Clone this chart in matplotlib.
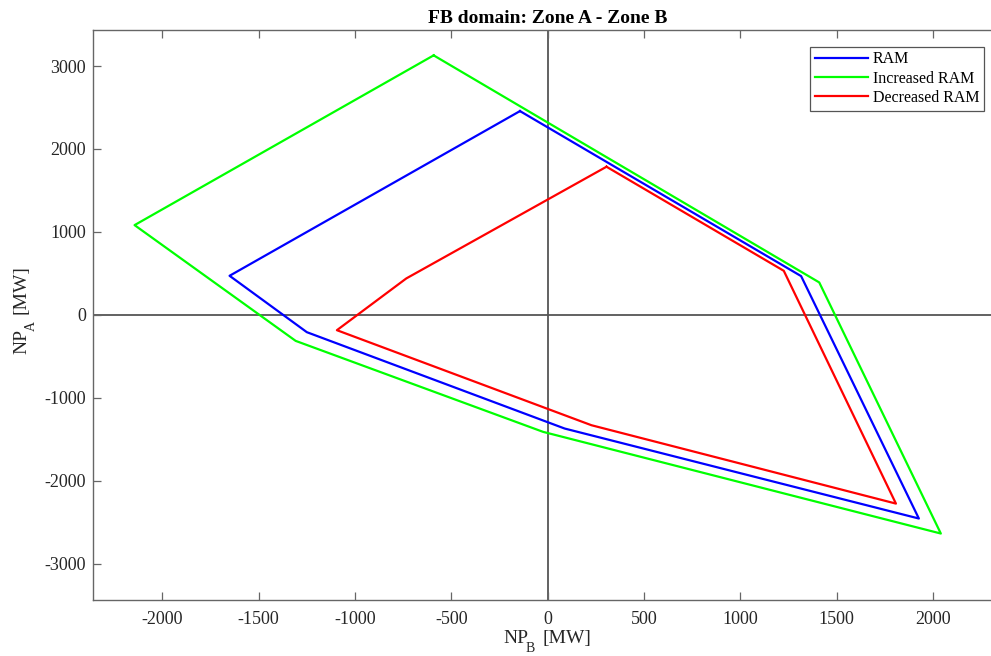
import matplotlib
matplotlib.use("Agg")
import matplotlib.pyplot as plt
from matplotlib.transforms import IdentityTransform

plt.rcParams['font.family'] = ['Liberation Serif', 'DejaVu Serif']
plt.rcParams['axes.unicode_minus'] = False

# polygon corners of the flow-based domain (NP_B, NP_A) in MW
ram_x = [-144, 1315, 1926, 88, -1250, -1651, -144]
ram_y = [2457, 467, -2456, -1371, -209, 471, 2457]

inc_x = [-592, 1409, 2040, -24, -1308, -2144, -592]
inc_y = [3129, 391, -2637, -1411, -314, 1082, 3129]

dec_x = [305, 1225, 1807, 227, -1094, -734, 305]
dec_y = [1786, 531, -2276, -1331, -185, 439, 1786]

labels = ['RAM', 'Increased RAM', 'Decreased RAM']
colors = ['#0000ff', '#00ff00', '#ff0000']

fig = plt.figure(figsize=(9.91, 6.56), dpi=100)
ax = fig.add_axes([0.0938, 0.0858, 0.9178, 0.8685])

ax.axhline(0, color='#555555', lw=1.3, zorder=1)
ax.axvline(0, color='#555555', lw=1.3, zorder=1)

for xs, ys, lab, c in zip([ram_x, inc_x, dec_x], [ram_y, inc_y, dec_y], labels, colors):
    ax.plot(xs, ys, color=c, lw=1.6, label=lab, zorder=2)

ax.set_xlim(-2360, 2360)
ax.set_ylim(-3435, 3435)
ax.set_xticks(range(-2000, 2001, 500))
ax.set_yticks(range(-3000, 3001, 1000))

for s in ax.spines.values():
    s.set_color('#666666')
    s.set_linewidth(1.0)
ax.tick_params(direction='in', length=6, width=0.9, color='#666666',
               top=True, right=True, labelsize=13, labelcolor='#262626')
ax.tick_params(axis='x', pad=8)
ax.tick_params(axis='y', pad=5)

ax.set_title('FB domain: Zone A - Zone B', fontsize=14, fontweight='bold', pad=5)

# axis labels with a low MATLAB-style subscript, placed in pixels
px = IdentityTransform()
lab_kw = dict(fontsize=14, color='#262626', transform=px)
fig.text(503, 13, 'NP', ha='left', va='baseline', **lab_kw)
fig.text(526, 14, 'B', ha='left', va='top', fontsize=10, color='#262626', transform=px)
fig.text(543, 13, '[MW]', ha='left', va='baseline', **lab_kw)

rot_kw = dict(rotation=90, rotation_mode='anchor')
fig.text(26, 302, 'NP', ha='left', va='baseline', **rot_kw, **lab_kw)
fig.text(25, 325, 'A', ha='left', va='top', fontsize=10, color='#262626',
         transform=px, **rot_kw)
fig.text(26, 342, '[MW]', ha='left', va='baseline', **rot_kw, **lab_kw)

leg = ax.legend(loc='upper right', bbox_to_anchor=(984 / 991, 1 - 46.7 / 656),
                bbox_transform=fig.transFigure, borderaxespad=0, fontsize=11.5,
                fancybox=False, framealpha=1, edgecolor='#555555',
                handlelength=3.3, handletextpad=0.3, labelspacing=0.2,
                borderpad=0.3)
leg.get_frame().set_linewidth(0.9)

fig.savefig('out.png', dpi=100)
